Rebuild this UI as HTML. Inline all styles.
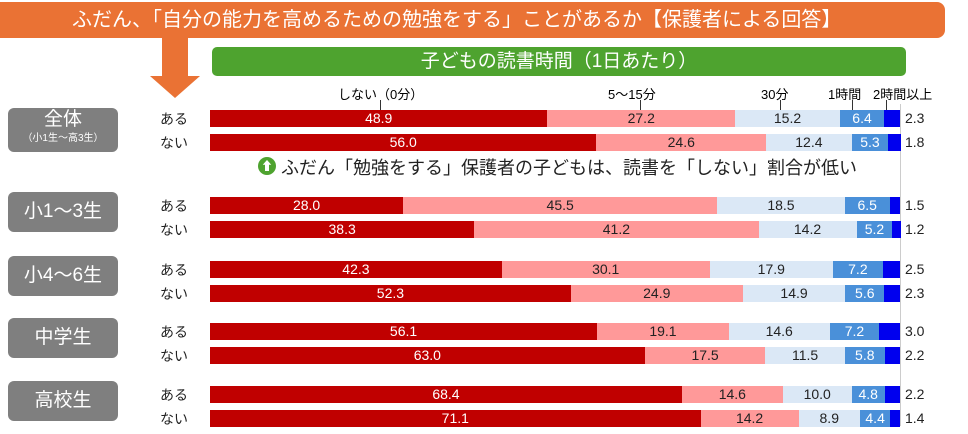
<!DOCTYPE html>
<html><head><meta charset="utf-8"><style>
body{margin:0;width:968px;height:434px;background:#fff;position:relative;overflow:hidden;font-family:"Liberation Sans","Noto Sans CJK JP",sans-serif;}
.a{position:absolute;}
.bar{position:absolute;height:17px;display:flex;}
.bar div{height:100%;font-size:14px;line-height:17px;text-align:center;white-space:nowrap;overflow:visible}
.r{background:#c00000;color:#fff}.p{background:#ff9999;color:#222}.l{background:#dbe8f6;color:#222}.m{background:#4a90d9;color:#fff}.b{background:#0000ee}
.grp{position:absolute;left:8px;width:110px;background:#7f7f7f;color:#fff;border-radius:6px;text-align:center;font-size:19px}
.yn{position:absolute;left:160px;font-size:14px;color:#222}
.v{position:absolute;left:905px;font-size:14px;color:#222}
</style></head><body>
<div class="a" style="left:0;top:2px;width:945px;height:36px;background:#ea7234;border-radius:0 8px 8px 0;color:#fff;font-size:20px;line-height:36px;padding-left:72px;box-sizing:border-box">ふだん、「自分の能力を高めるための勉強をする」ことがあるか【保護者による回答】</div>
<div class="a" style="left:162px;top:38px;width:26px;height:38px;background:#ea7234"></div>
<div class="a" style="left:150px;top:76px;width:0;height:0;border-left:25px solid transparent;border-right:25px solid transparent;border-top:22px solid #ea7234"></div>
<div class="a" style="left:212px;top:47px;width:694px;height:29px;background:#4ea32f;border-radius:5px;color:#fff;font-size:19px;line-height:29px;text-align:center">子どもの読書時間（1日あたり）</div>
<div class="a" style="left:338px;top:84px;font-size:13px">しない（0分）</div>
<div class="a" style="left:608px;top:84px;font-size:13px">5～15分</div>
<div class="a" style="left:761px;top:84px;font-size:13px">30分</div>
<div class="a" style="left:828px;top:84px;font-size:13px">1時間</div>
<div class="a" style="left:873px;top:84px;font-size:13px">2時間以上</div>
<div class="a" style="left:380px;top:100px;width:1px;height:12px;background:#333"></div>
<div class="a" style="left:640px;top:100px;width:1px;height:12px;background:#333"></div>
<div class="a" style="left:780px;top:100px;width:1px;height:12px;background:#333"></div>
<div class="a" style="left:852px;top:100px;width:1px;height:12px;background:#333"></div>
<div class="a" style="left:886px;top:100px;width:1px;height:12px;background:#333"></div>
<div class="a" style="left:900px;top:104px;width:1px;height:322px;background:#ccc"></div>
<div class="a" style="left:258px;top:157px;width:18px;height:18px;border-radius:50%;background:#4ea32f;color:#fff;font-size:12px;line-height:18px;text-align:center">⬆</div>
<div class="a" style="left:281px;top:154px;font-size:18px;color:#222">ふだん「勉強をする」保護者の子どもは、読書を「しない」割合が低い</div>
<div class="grp" style="top:108px;height:44px;line-height:24px">全体<div style="font-size:10px;line-height:14px">（小1生～高3生）</div></div>
<div class="grp" style="top:192px;height:40px;line-height:40px">小1～3生</div>
<div class="grp" style="top:256px;height:40px;line-height:40px">小4～6生</div>
<div class="grp" style="top:318px;height:40px;line-height:40px">中学生</div>
<div class="grp" style="top:381px;height:40px;line-height:40px">高校生</div>
<div id="rows"></div>
<script>
const d=[[110,48.9,27.2,15.2,6.4,2.3],[134,56.0,24.6,12.4,5.3,1.8],[197,28.0,45.5,18.5,6.5,1.5],[221,38.3,41.2,14.2,5.2,1.2],[261,42.3,30.1,17.9,7.2,2.5],[285,52.3,24.9,14.9,5.6,2.3],[323,56.1,19.1,14.6,7.2,3.0],[347,63.0,17.5,11.5,5.8,2.2],[386,68.4,14.6,10.0,4.8,2.2],[410,71.1,14.2,8.9,4.4,1.4]];
let h='';const W=690,cls=['r','p','l','m','b'];
d.forEach((r,i)=>{h+=`<div class="yn" style="top:${r[0]-1}px">${i%2?'ない':'ある'}</div><div class="bar" style="left:210px;top:${r[0]}px">`;
for(let k=0;k<5;k++){h+=`<div class="${cls[k]}" style="width:${r[k+1]*W/100}px">${k<4?r[k+1].toFixed(1):''}</div>`}
h+=`</div><div class="v" style="top:${r[0]}px">${r[5].toFixed(1)}</div>`});
document.getElementById('rows').innerHTML=h;
</script>
</body></html>
